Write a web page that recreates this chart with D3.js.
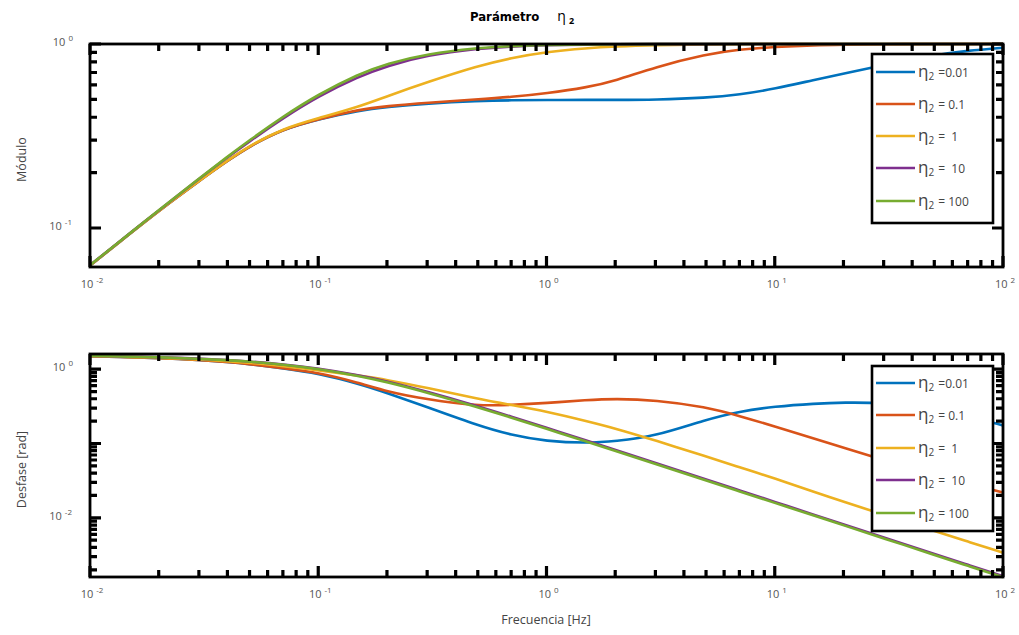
<!DOCTYPE html>
<html>
<head>
<meta charset="utf-8">
<script src="https://cdn.jsdelivr.net/npm/d3@7"></script>
<style>
  html, body { margin: 0; padding: 0; background: #fff; }
  svg { display: block; }
  text { font-family: "Open Sans", "Noto Sans", sans-serif; }
</style>
</head>
<body>
<svg id="chart" width="1019" height="635"></svg>
<script>
// ---------------- data ----------------
const freqs = [0.01,0.015,0.02,0.03,0.04,0.05,0.07,0.1,0.15,0.2,0.3,0.5,0.7,1,1.5,2,3,5,7,10,15,20,30,50,70,100];

const seriesNames = ["=0.01", "= 0.1", "=  1", "=  10", "= 100"];
const seriesColors = ["#0072BD", "#D95319", "#EDB120", "#7E2F8E", "#77AC30"];

// Módulo
const magEta001 = [0.0625,0.0935,0.124,0.18,0.232,0.278,0.345,0.39,0.435,0.455,0.475,0.49,0.495,0.496,0.497,0.497,0.498,0.51,0.53,0.57,0.64,0.69,0.77,0.87,0.92,0.955];
const magEta01  = [0.0625,0.0935,0.124,0.18,0.232,0.278,0.345,0.39,0.44,0.46,0.48,0.5,0.515,0.54,0.58,0.63,0.75,0.88,0.935,0.965,0.985,0.99,0.997,1,1,1];
const magEta1   = [0.0625,0.0935,0.124,0.18,0.233,0.28,0.347,0.395,0.455,0.52,0.62,0.76,0.84,0.905,0.95,0.97,0.985,0.995,0.998,1,1,1,1,1,1,1];
const magEta10  = [0.0628,0.0939,0.1247,0.185,0.242,0.296,0.395,0.52,0.665,0.76,0.87,0.945,0.97,0.985,0.993,0.996,0.998,0.999,1,1,1,1,1,1,1,1];
const magEta100 = [0.0628,0.0939,0.1248,0.1854,0.244,0.300,0.403,0.532,0.686,0.783,0.884,0.953,0.975,0.988,0.994,0.997,0.999,1,1,1,1,1,1,1,1,1];

// Desfase [rad]
const phEta001 = [1.49,1.45,1.41,1.33,1.25,1.17,1.03,0.88,0.64,0.48,0.31,0.175,0.13,0.107,0.101,0.107,0.125,0.21,0.27,0.315,0.345,0.357,0.355,0.30,0.235,0.175];
const phEta01  = [1.49,1.45,1.41,1.33,1.25,1.17,1.03,0.90,0.66,0.50,0.39,0.32,0.33,0.35,0.385,0.40,0.385,0.31,0.235,0.17,0.115,0.088,0.06,0.038,0.029,0.022];
const phEta1   = [1.50,1.46,1.42,1.35,1.28,1.22,1.10,0.97,0.82,0.72,0.56,0.40,0.33,0.27,0.20,0.16,0.11,0.067,0.048,0.034,0.022,0.0165,0.011,0.0067,0.0048,0.0034];
const phEta10  = [1.508,1.478,1.448,1.388,1.33,1.27,1.165,1.025,0.83,0.69,0.50,0.318,0.23,0.163,0.109,0.082,0.0547,0.0328,0.0234,0.0164,0.0109,0.0082,0.00546,0.00328,0.00234,0.00164];
const phEta100 = [1.508,1.477,1.446,1.384,1.325,1.266,1.156,1.010,0.814,0.672,0.487,0.308,0.223,0.158,0.106,0.0794,0.053,0.0318,0.0227,0.0159,0.0106,0.00795,0.0053,0.00318,0.00227,0.00159];

const xMajorTicks = [0.01, 0.1, 1, 10, 100];
const xTickLabels = ["-2", "-1", "0", "1", "2"];
const topYMajorTicks = [0.1, 1];
const topYTickLabels = [[0.1, "-1"], [1, "0"]];
const botYMajorTicks = [0.001, 0.01, 0.1, 1];
const botYTickLabels = [[0.01, "-2"], [1, "0"]];
const minorMultipliers = [2, 3, 4, 5, 6, 7, 8, 9];

const titleText = "Parámetro";
const topYLabel = "Módulo";
const botYLabel = "Desfase [rad]";
const xLabel = "Frecuencia [Hz]";

// ---------------- drawing ----------------
const svg = d3.select("#chart");
const L = 90, R = 1003;

const x = d3.scaleLog().domain([0.01, 100]).range([L, R]);

const panels = [
  { top: 44, bottom: 267, domain: [0.0614, 1], series: [magEta001, magEta01, magEta1, magEta10, magEta100],
    yMajor: topYMajorTicks, yLabels: topYTickLabels, ylabel: topYLabel,
    legend: { x: 872, y: 54, w: 121, h: 169, rows: [72, 104, 136, 168, 201] } },
  { top: 354, bottom: 577, domain: [0.0016, 1.6], series: [phEta001, phEta01, phEta1, phEta10, phEta100],
    yMajor: botYMajorTicks, yLabels: botYTickLabels, ylabel: botYLabel,
    legend: { x: 872, y: 366, w: 121, h: 165, rows: [383, 415, 448, 480, 513] } }
];

function minorsOf(majors, lo, hi) {
  const out = [];
  majors.forEach(m => minorMultipliers.forEach(k => {
    const v = m * k;
    if (v > lo && v < hi) out.push(v);
  }));
  return out;
}

panels.forEach((p) => {
  const y = d3.scaleLog().domain(p.domain).range([p.bottom, p.top]);
  const g = svg.append("g");

  // curves
  const line = d3.line()
    .x(d => x(d[0]))
    .y(d => y(d[1]))
    .curve(d3.curveBasis);
  p.series.forEach((vals, i) => {
    g.append("path")
      .datum(freqs.map((f, k) => [f, vals[k]]))
      .attr("fill", "none")
      .attr("stroke", seriesColors[i])
      .attr("stroke-width", 2.6)
      .attr("stroke-linejoin", "round")
      .attr("d", line);
  });

  // inward ticks on all four sides
  const [ylo, yhi] = p.domain;
  const xMinor = minorsOf(xMajorTicks, 0.01, 100);
  const yMinor = minorsOf(p.yMajor, ylo, yhi);
  const yMajorIn = p.yMajor.filter(v => v >= ylo && v <= yhi);
  const minorLen = 7, majorLen = 11;
  const xt = xMinor.map(v => [v, minorLen]).concat(xMajorTicks.map(v => [v, majorLen]));
  const yt = yMinor.map(v => [v, minorLen]).concat(yMajorIn.map(v => [v, majorLen]));
  let dstr = "";
  xt.forEach(([v, len]) => {
    const xp = x(v).toFixed(2);
    dstr += `M${xp},${p.bottom}V${p.bottom - len}M${xp},${p.top}V${p.top + len}`;
  });
  yt.forEach(([v, len]) => {
    const yp = y(v).toFixed(2);
    dstr += `M${L},${yp}H${L + len}M${R},${yp}H${R - len}`;
  });
  g.append("path")
    .attr("d", dstr)
    .attr("fill", "none")
    .attr("stroke", "#000")
    .attr("stroke-width", 3.2)
    .attr("stroke-linecap", "butt");

  // box
  g.append("rect")
    .attr("x", L).attr("y", p.top)
    .attr("width", R - L).attr("height", p.bottom - p.top)
    .attr("fill", "none").attr("stroke", "#000").attr("stroke-width", 2.8);

  // x tick labels
  xMajorTicks.forEach((v, i) => {
    const t = g.append("text")
      .attr("x", x(v) + 2).attr("y", p.bottom + 21)
      .attr("text-anchor", "middle")
      .attr("fill", "#555").attr("font-size", 11);
    t.append("tspan").text("10");
    t.append("tspan").attr("font-size", 8).attr("dx", 3).attr("dy", -5).text(xTickLabels[i]);
  });

  // y tick labels
  p.yLabels.forEach(([v, e]) => {
    const t = g.append("text")
      .attr("x", e.length > 1 ? 72 : 73).attr("y", y(v) + 2)
      .attr("text-anchor", "end")
      .attr("fill", "#555").attr("font-size", 11);
    t.append("tspan").text("10");
    t.append("tspan").attr("font-size", 8).attr("dx", 3).attr("dy", -5).text(e);
  });

  // y label
  g.append("text")
    .attr("transform", `translate(26,${(p.top + p.bottom) / 2 + 4}) rotate(-90)`)
    .attr("text-anchor", "middle")
    .attr("fill", "#444").attr("font-size", 12.5)
    .text(p.ylabel);

  // legend
  const lg = p.legend;
  g.append("rect")
    .attr("x", lg.x).attr("y", lg.y).attr("width", lg.w).attr("height", lg.h)
    .attr("fill", "#fff").attr("stroke", "#000").attr("stroke-width", 2.6);
  seriesNames.forEach((name, i) => {
    const ry = lg.rows[i];
    g.append("line")
      .attr("x1", lg.x + 4).attr("x2", lg.x + 43)
      .attr("y1", ry).attr("y2", ry)
      .attr("stroke", seriesColors[i]).attr("stroke-width", 2.6);
    const t = g.append("text")
      .attr("x", lg.x + 46).attr("y", ry + 5)
      .attr("fill", "#444").attr("font-size", 12)
      .attr("xml:space", "preserve")
      .style("white-space", "pre");
    t.append("tspan").attr("font-size", 17).text("η");
    t.append("tspan").attr("font-size", 10).attr("dy", 3).text("2");
    t.append("tspan").attr("dy", -3).attr("dx", 1).text(" " + name);
  });
});

// title
const tt = svg.append("text")
  .attr("x", 470).attr("y", 21)
  .attr("fill", "#000");
tt.append("tspan").attr("font-weight", "bold")
  .attr("font-family", "'DejaVu Sans Condensed', 'Liberation Sans Narrow', sans-serif")
  .attr("font-stretch", "condensed")
  .attr("font-size", 13).text(titleText);
tt.append("tspan").attr("dx", 18).attr("font-size", 14).text("η");
tt.append("tspan").attr("dx", 3).attr("dy", 3).attr("font-size", 9).attr("font-weight", "bold").text("2");

// x label
svg.append("text")
  .attr("x", 546).attr("y", 624)
  .attr("text-anchor", "middle")
  .attr("fill", "#444").attr("font-size", 12.5)
  .text(xLabel);
</script>
</body>
</html>
